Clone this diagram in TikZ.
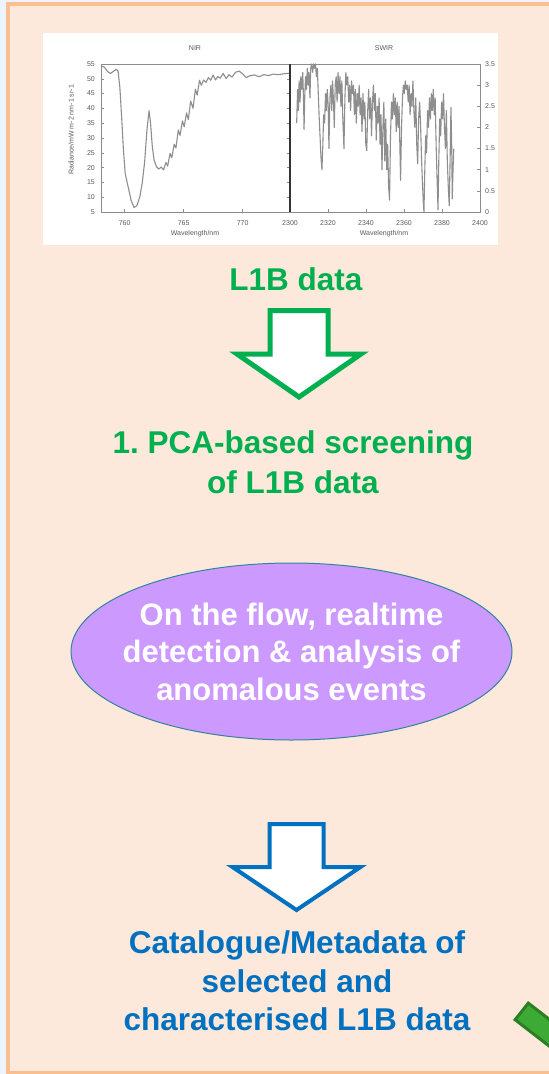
\documentclass[tikz,border=0pt]{standalone}
\usepackage{fontspec}
\setmainfont{Liberation Sans}
\usetikzlibrary{calc,shapes.geometric}
\definecolor{stripblue}{HTML}{EEF4FE}
\definecolor{panelfill}{HTML}{FDE9DB}
\definecolor{panelline}{HTML}{F9BF8E}
\definecolor{pcagreen}{HTML}{00B050}
\definecolor{catblue}{HTML}{0070C0}
\definecolor{ovalfill}{HTML}{CC99FF}
\definecolor{ovalline}{HTML}{31849B}
\definecolor{axisgray}{HTML}{8C8C8C}
\definecolor{curvegray}{HTML}{8E8E8E}
\definecolor{labelgray}{HTML}{5A5A5A}
\definecolor{barfill}{HTML}{3DAA35}
\definecolor{barline}{HTML}{2A7F24}
% block arrow: (centre x, top y)(shaft half width : ledge drop : head half width : tip drop)
\def\fatarrow[#1](#2,#3)(#4:#5:#6:#7){\draw[#1] (#2-#4,#3) -- (#2+#4,#3) -- (#2+#4,#3+#5) -- (#2+#6,#3+#5) -- (#2,#3+#7) -- (#2-#6,#3+#5) -- (#2-#4,#3+#5) -- cycle;}
\frenchspacing

\begin{document}
\begin{tikzpicture}[x=1pt,y=-1pt,
		bigtext/.style={font=\bfseries\fontsize{31.5}{40}\selectfont,align=center,inner sep=0pt},
		ticklabel/.style={font=\fontsize{7}{8}\selectfont,text=labelgray,inner sep=0pt},
		tickmark/.style={draw=axisgray,line width=0.6pt},
		spectrum/.style={draw=curvegray,line width=1.1pt,line join=round}]
			%%%%% START %%%%%
			
			\useasboundingbox (0,0) rectangle (549,1074);
			\clip (0,0) rectangle (549,1074);
			\fill[stripblue] (0,0) rectangle (549,1074);
			\draw[line width=4pt, draw=panelline, fill=panelfill] (7.5,4) rectangle (580,1072.5);
			
			% spectra picture
			\fill[white] (43,33) rectangle (498,245);
			
			\begin{scope}[shift={(101,212)},x=11.8pt,y=2.96pt,shift={(-758,-5)}]
				\draw[axisgray,line width=0.8pt] (774,55) -- (758,55) -- (758,5) -- (774,5);
				\foreach \v in {5,10,...,55} {
					\draw[tickmark] (758,\v) -- ++(0.25,0);
					\draw[tickmark] (774,\v) -- ++(-0.25,0);
					\node[ticklabel,left=6pt] (niry\v) at (758,\v) {\v};
				}
				\foreach \w in {760,765,770} {
					\draw[tickmark] (\w,5) -- ++(0,0.9);
					\node[ticklabel,below=8pt] (nirx\w) at (\w,5) {\w};
				}
				\draw[spectrum] plot coordinates {(758.0,54.3) (758.3,53.9) (758.55,52.5) (758.8,51.8) (759.05,52.5) (759.3,53.2) (759.45,52.6) (759.6,47) (759.75,37) (759.9,26) (760.05,18) (760.3,13.5) (760.55,9) (760.8,6.5) (761.05,7.2) (761.3,10.3) (761.5,15) (761.7,22) (761.9,33) (762.07,39.2) (762.2,35) (762.35,27) (762.5,22.5) (762.7,20.3) (762.9,19.5) (763.1,20.2) (763.3,19.2) (763.5,21.8) (763.65,20.5) (763.85,24.8) (764.0,23.3) (764.2,27.9) (764.35,26.6) (764.55,32.7) (764.7,30.9) (764.9,35.8) (765.05,33.8) (765.25,38.5) (765.4,36.2) (765.6,42.5) (765.8,40) (766.0,46.5) (766.15,44.5) (766.35,49.5) (766.5,47.8) (766.7,49.6) (766.9,48.8) (767.1,50.4) (767.3,49.5) (767.5,51.3) (767.7,49.6) (767.9,50.8) (768.1,50.2) (768.35,51.8) (768.6,50.1) (768.85,51.4) (769.1,50.6) (769.4,52.2) (769.7,52.6) (770.0,51.7) (770.3,50.4) (770.6,51.0) (771.0,51.3) (771.4,50.7) (771.8,51.4) (772.2,51.1) (772.6,51.6) (773.0,51.4) (773.5,51.7) (774.0,51.9)};
			\end{scope}
			
			\begin{scope}[shift={(290,212)},x=1.9pt,y=42.29pt,shift={(-2300,0)}]
				\draw[axisgray,line width=0.8pt] (2300,3.5) -- (2400,3.5) -- (2400,0) -- (2300,0);
				\foreach \v [count=\i] in {0,0.5,1,1.5,2,2.5,3,3.5} {
					\draw[tickmark] (2400,\v) -- ++(-1.5,0);
					\node[ticklabel,right=5pt] (swiry\i) at (2400,\v) {\v};
				}
				\foreach \w in {2300,2320,...,2400} {
					\draw[tickmark] (\w,0) -- ++(0,0.06);
					\node[ticklabel,below=8pt] (swirx\w) at (\w,0) {\w};
				}
				\draw[spectrum] plot coordinates {(2303.5,2.1) (2304.0,2.9) (2304.4,2.4) (2304.8,3.1) (2305.3,2.6) (2305.7,3.2) (2306.2,2.9) (2306.7,3.3) (2307.1,2.7) (2307.4,1.95) (2307.8,2.8) (2308.2,3.2) (2308.7,2.9) (2309.1,3.4) (2309.6,3.0) (2310.0,3.3) (2310.5,2.7) (2310.9,3.4) (2311.4,3.5) (2311.9,3.3) (2312.4,3.5) (2312.9,3.4) (2313.4,3.5) (2313.9,3.2) (2314.4,3.4) (2314.8,2.9) (2315.3,2.3) (2315.8,1.8) (2316.3,1.3) (2316.8,1.0) (2317.3,1.6) (2317.7,2.3) (2318.2,2.1) (2318.7,2.8) (2319.1,2.4) (2319.6,2.9) (2320.1,2.5) (2320.5,1.5) (2321.0,2.7) (2321.5,3.0) (2322.0,2.4) (2322.4,3.1) (2322.9,2.6) (2323.3,2.0) (2323.8,3.0) (2324.3,3.2) (2324.8,2.6) (2325.3,3.3) (2325.8,2.8) (2326.3,3.2) (2326.8,2.5) (2327.3,3.1) (2327.8,2.2) (2328.4,1.5) (2328.9,2.7) (2329.4,3.3) (2329.9,3.0) (2330.4,3.2) (2330.9,2.6) (2331.4,3.0) (2331.9,2.4) (2332.4,3.1) (2332.9,2.8) (2333.4,3.0) (2333.9,2.3) (2334.4,2.9) (2334.9,2.1) (2335.4,2.8) (2335.9,2.5) (2336.4,3.0) (2336.9,2.3) (2337.4,2.7) (2337.9,1.9) (2338.4,2.8) (2338.9,2.2) (2339.4,2.6) (2339.9,1.6) (2340.4,1.45) (2340.9,2.4) (2341.4,2.9) (2341.9,2.2) (2342.4,2.7) (2342.9,1.8) (2343.4,2.6) (2343.9,3.0) (2344.4,2.4) (2344.9,2.8) (2345.4,1.7) (2345.9,2.5) (2346.4,2.1) (2346.9,2.7) (2347.4,1.6) (2347.9,2.3) (2348.4,1.0) (2348.9,2.0) (2349.4,2.6) (2349.9,1.2) (2350.4,2.2) (2350.9,1.0) (2351.4,1.6) (2351.9,0.6) (2352.4,0.28) (2352.9,1.8) (2353.4,2.6) (2353.9,2.2) (2354.4,2.8) (2354.9,2.3) (2355.4,2.7) (2355.9,1.9) (2356.4,2.6) (2356.9,2.0) (2357.4,2.5) (2357.9,1.4) (2358.2,0.75) (2358.7,2.0) (2359.2,2.7) (2359.7,3.0) (2360.2,2.8) (2360.7,3.1) (2361.2,2.9) (2361.7,3.0) (2362.2,2.6) (2362.7,3.0) (2363.2,2.3) (2363.7,2.8) (2364.2,2.5) (2364.7,3.1) (2365.2,2.4) (2365.7,2.0) (2366.2,2.7) (2366.7,1.6) (2367.2,1.14) (2367.7,2.2) (2368.2,2.6) (2368.7,2.1) (2369.2,1.3) (2369.7,0.7) (2370.2,0.2) (2370.5,0.0) (2370.9,0.9) (2371.4,1.8) (2371.9,1.4) (2372.4,2.4) (2372.9,2.0) (2373.4,2.7) (2373.9,2.2) (2374.4,2.8) (2374.9,2.4) (2375.4,2.9) (2375.9,2.3) (2376.4,2.7) (2376.9,1.6) (2377.4,0.8) (2377.9,0.05) (2378.3,1.2) (2378.8,2.2) (2379.3,1.8) (2379.8,2.6) (2380.3,2.2) (2380.8,2.8) (2381.3,2.0) (2381.8,1.5) (2382.3,2.4) (2382.8,1.2) (2383.3,0.6) (2383.8,0.15) (2384.3,1.3) (2384.7,2.48) (2385.1,1.6) (2385.4,0.31) (2385.8,1.0) (2386.2,1.49)};
			\end{scope}
			
			\draw[black!80,line width=1.3pt] (290,64) -- (290,212);
			\node[ticklabel] (nirtitle) at (195,48) {NIR};
			\node[ticklabel] (swirtitle) at (384,48) {SWIR};
			\node[ticklabel] (nirxlabel) at (195,234) {Wavelength/nm};
			\node[ticklabel] (swirxlabel) at (384,234) {Wavelength/nm};
			\node[ticklabel,rotate=90] (radlabel) at (71,130) {Radiance/mW m-2 nm-1 sr-1};
			
			% flow
			\node[bigtext,text=pcagreen] (l1b) at (296,279) {L1B data};
			\fatarrow[draw=pcagreen,fill=white,line width=5pt](299,310.5)(29:43.5:62:86.5);
			\node[bigtext,text=pcagreen] (pca) at (293,462) {1. PCA-based screening\\of L1B data};
			
			\node[ellipse,draw=ovalline,line width=1pt,fill=ovalfill,minimum width=441pt,minimum height=177pt,inner sep=0pt] (oval) at (291.5,651.5) {};
			\node[bigtext,text=white,font=\bfseries\fontsize{31}{37.5}\selectfont] (ovaltext) at (oval.center) {On the flow, realtime\\detection \& analysis of\\anomalous events};
			
			\fatarrow[draw=catblue,fill=white,line width=4pt](296.5,824)(27:43:64:86);
			\node[bigtext,text=catblue,font=\bfseries\fontsize{31.5}{38.5}\selectfont] (cat) at (297,981) {Catalogue/Metadata of\\selected and\\characterised L1B data};
			
			\draw[fill=barfill,draw=barline,line width=3pt] (515.1,1019.7) -- (528.3,1003.1) -- (591.6,1052) -- (578.4,1068.7) -- cycle;
			
			%%%%% END %%%%%
		\end{tikzpicture}
\end{document}
